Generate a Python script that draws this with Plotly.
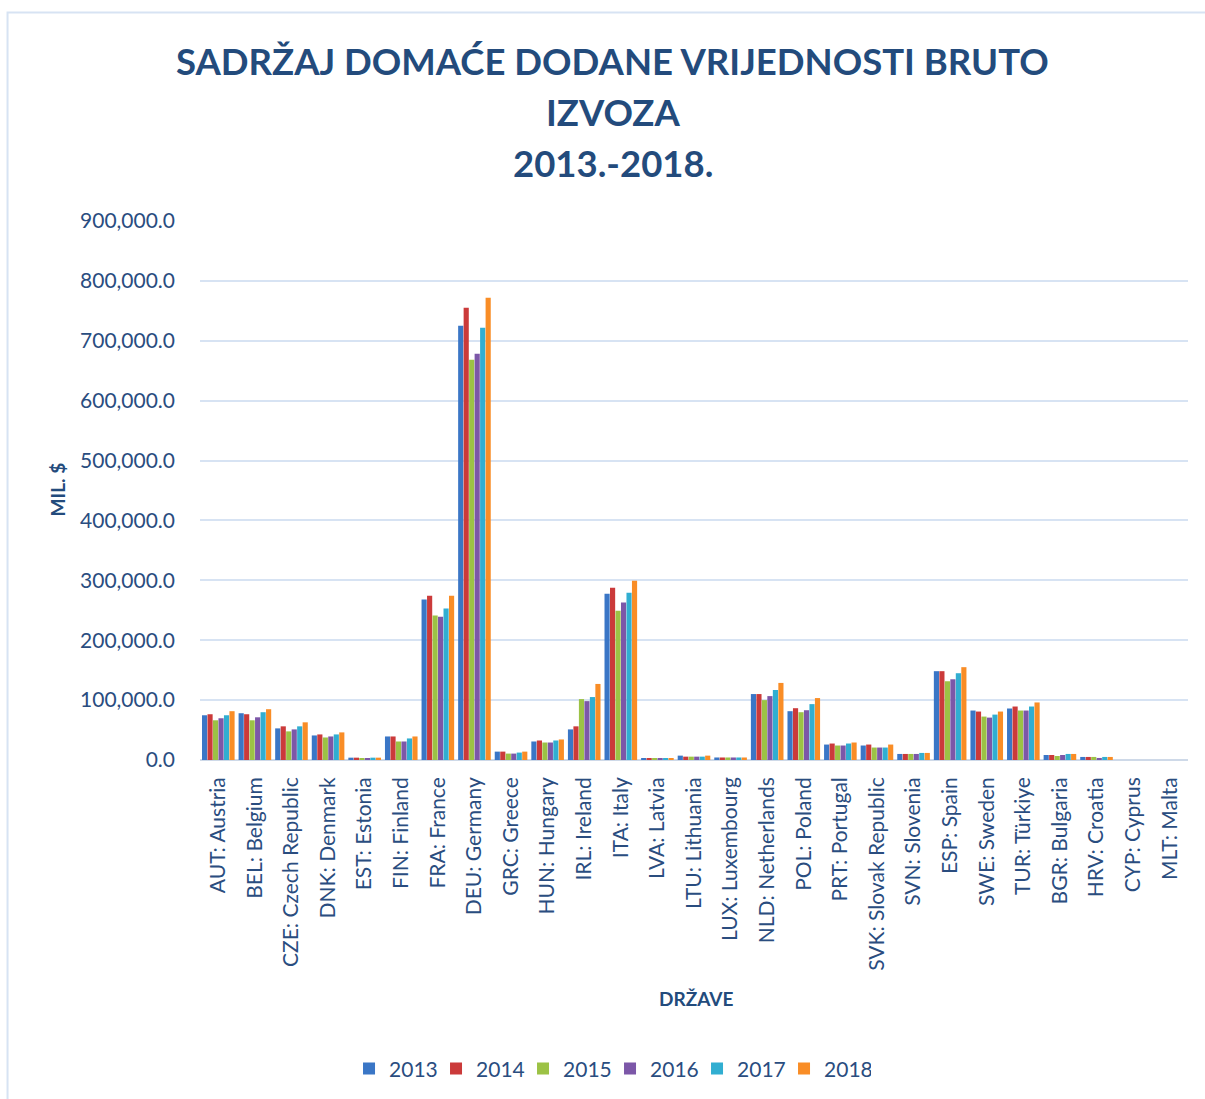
import plotly.graph_objects as go

# Countries (x-axis categories)
countries = [
    "AUT: Austria", "BEL: Belgium", "CZE: Czech Republic", "DNK: Denmark",
    "EST: Estonia", "FIN: Finland", "FRA: France", "DEU: Germany",
    "GRC: Greece", "HUN: Hungary", "IRL: Ireland", "ITA: Italy",
    "LVA: Latvia", "LTU: Lithuania", "LUX: Luxembourg", "NLD: Netherlands",
    "POL: Poland", "PRT: Portugal", "SVK: Slovak Republic", "SVN: Slovenia",
    "ESP: Spain", "SWE: Sweden", "TUR: Türkiye", "BGR: Bulgaria",
    "HRV: Croatia", "CYP: Cyprus", "MLT: Malta",
]

years = ["2013", "2014", "2015", "2016", "2017", "2018"]

# Domestic value added in gross exports, USD million
v2013 = [74700, 78100, 52800, 41000, 3900, 39300, 267800, 725000, 14000, 30900,
         51100, 277800, 2500, 7300, 4200, 110100, 81500, 25800, 24200, 10100,
         148300, 82600, 86000, 8400, 5100, None, None]
v2014 = [76400, 76400, 56200, 42700, 3900, 39300, 274400, 755000, 14000, 32600,
         56200, 287800, 2500, 5600, 4200, 110100, 86500, 27500, 25800, 10100,
         148300, 80900, 89300, 8400, 5100, None, None]
v2015 = [66300, 66300, 47800, 37600, 2200, 30900, 241100, 668300, 10700, 29200,
         101700, 249400, 2200, 5600, 4200, 100000, 79800, 24200, 20800, 10100,
         131500, 72500, 82600, 6700, 5100, None, None]
v2016 = [69700, 71300, 51100, 39300, 2200, 30900, 239400, 678300, 10700, 29200,
         98300, 262800, 2500, 5600, 4200, 106700, 83100, 24200, 20800, 10100,
         134800, 70800, 82600, 8400, 3400, None, None]
v2017 = [74700, 79800, 56200, 42700, 3900, 36000, 252800, 721700, 12400, 32600,
         105100, 279400, 2500, 5600, 4200, 116900, 93300, 27500, 20800, 11800,
         144900, 75800, 89300, 10100, 5100, None, None]
v2018 = [81500, 84800, 62900, 46100, 3900, 39300, 274400, 771700, 14000, 34300,
         127000, 299400, 2500, 7300, 4200, 128700, 103400, 29200, 25800, 11800,
         155000, 80900, 96100, 10100, 5100, None, None]

series = [v2013, v2014, v2015, v2016, v2017, v2018]
colors = ["#3A76C6", "#CB3A3A", "#9CC245", "#7C57A8", "#31AED1", "#F98D26"]

y_ticks = [0, 100000, 200000, 300000, 400000, 500000, 600000, 700000, 800000, 900000]
y_tick_text = ["0.0", "100,000.0", "200,000.0", "300,000.0", "400,000.0",
               "500,000.0", "600,000.0", "700,000.0", "800,000.0", "900,000.0"]

title_lines = ["SADRŽAJ DOMAĆE DODANE VRIJEDNOSTI BRUTO", "IZVOZA", "2013.-2018."]

FONT = "Lato, 'Open Sans', sans-serif"
TEXT = "#2A4D7F"
TITLE = "#234B7C"
GRID = "#D7E3F3"

fig = go.Figure()
for name, vals, col in zip(years, series, colors):
    fig.add_trace(go.Bar(
        x=countries, y=vals, name=name,
        marker=dict(color=col, line=dict(width=0)),
    ))

fig.update_layout(
    width=1205, height=1099, autosize=False,
    margin=dict(l=200, r=17, t=221, b=338),
    paper_bgcolor="white", plot_bgcolor="white",
    barmode="group", bargap=0.1, bargroupgap=0.06,
    font=dict(family=FONT, color=TEXT, size=20),
    showlegend=True,
    legend=dict(
        orientation="h", x=0.415, xanchor="center", y=-0.570, yanchor="middle",
        font=dict(size=21, color=TEXT), entrywidth=42, entrywidthmode="pixels",
        itemwidth=30, bgcolor="rgba(0,0,0,0)",
    ),
)

fig.update_xaxes(
    type="category", tickangle=-90, tickfont=dict(size=21, color=TEXT),
    showgrid=False, showline=False, ticks="", ticklabelstandoff=12,
)
fig.update_yaxes(
    range=[0, 900000], tickvals=y_ticks, ticktext=y_tick_text,
    tickfont=dict(size=21, color=TEXT), showgrid=True, gridcolor=GRID,
    gridwidth=2, zeroline=True, zerolinecolor="#CED9E8", zerolinewidth=2,
    showline=False, ticks="", ticklabelstandoff=24,
)

# Title, three centred lines
for text, ypos in zip(title_lines, [1.2963, 1.2019, 1.1074]):
    fig.add_annotation(
        text=f"<b>{text}</b>", xref="paper", yref="paper", x=0.418, y=ypos,
        xanchor="center", yanchor="middle", showarrow=False,
        font=dict(family=FONT, size=36.5, color=TITLE),
    )

# Axis titles
fig.add_annotation(
    text="<b>MIL. $</b>", xref="paper", yref="paper", x=-0.1447, y=0.502,
    xanchor="center", yanchor="middle", textangle=-90, showarrow=False,
    font=dict(family=FONT, size=19, color=TITLE),
)
fig.add_annotation(
    text="<b>DRŽAVE</b>", xref="paper", yref="paper", x=0.502, y=-0.4426,
    xanchor="center", yanchor="middle", showarrow=False,
    font=dict(family=FONT, size=19, color=TITLE),
)

# Chart frame
fig.add_shape(
    type="rect", xref="paper", yref="paper",
    x0=-0.1948, x1=1.1, y0=-0.75, y1=1.387,
    line=dict(color=GRID, width=2), layer="below",
)

fig.write_html("out.html")
